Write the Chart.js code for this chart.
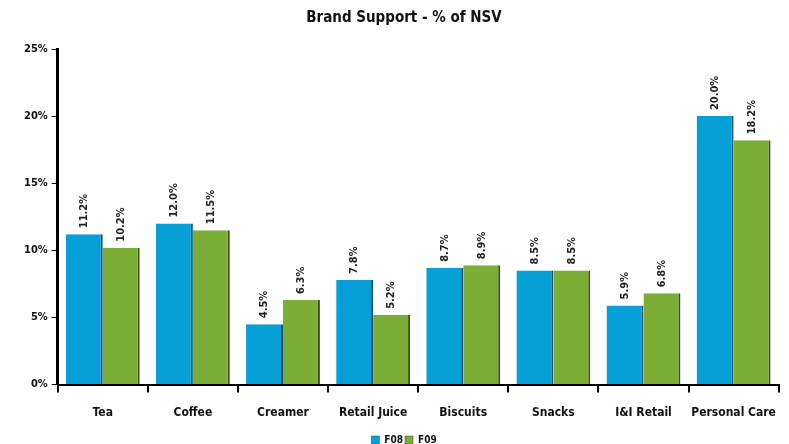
<!DOCTYPE html>
<html>
<head>
<meta charset="utf-8">
<script src="https://cdn.jsdelivr.net/npm/chart.js@4"></script>
<style>
  body { margin: 0; background: #fff; }
</style>
</head>
<body>
<canvas id="brandChart" width="789" height="444"></canvas>
<script>
const categories = ['Tea', 'Coffee', 'Creamer', 'Retail Juice', 'Biscuits', 'Snacks', 'I&I Retail', 'Personal Care'];
const f08 = [11.2, 12.0, 4.5, 7.8, 8.7, 8.5, 5.9, 20.0];
const f09 = [10.2, 11.5, 6.3, 5.2, 8.9, 8.5, 6.8, 18.2];
const yTicks = [0, 5, 10, 15, 20, 25];

const fontFam = "'Liberation Sans Narrow', 'DejaVu Sans Condensed', 'Roboto Condensed', sans-serif";

// draws the rotated value labels above each bar
const valueLabels = {
    id: 'valueLabels',
    afterDatasetsDraw(chart) {
        const ctx = chart.ctx;
        ctx.save();
        ctx.font = 'bold 11px ' + fontFam;
        ctx.fillStyle = '#222';
        ctx.textAlign = 'left';
        ctx.textBaseline = 'middle';
        chart.data.datasets.forEach((ds, i) => {
            chart.getDatasetMeta(i).data.forEach((bar, j) => {
                ctx.save();
                ctx.translate(bar.x, bar.y - 6);
                ctx.rotate(-Math.PI / 2);
                ctx.fillText(ds.data[j].toFixed(1) + '%', 0, 0);
                ctx.restore();
            });
        });
        ctx.restore();
    }
};

new Chart(document.getElementById('brandChart'), {
    type: 'bar',
    data: {
        labels: categories,
        datasets: [
            { label: 'F08', data: f08, backgroundColor: '#06a0d6', borderColor: '#03506e', borderWidth: { left: 0, right: 2, top: 0, bottom: 0 } },
            { label: 'F09', data: f09, backgroundColor: '#7cad37', borderColor: '#3a531a', borderWidth: { left: 0, right: 2, top: 0, bottom: 0 } }
        ]
    },
    options: {
        responsive: false,
        animation: false,
        layout: { padding: { left: 20, right: 1, top: 0, bottom: -11 } },
        datasets: {
            bar: { categoryPercentage: 0.82, barPercentage: 1.0 }
        },
        plugins: {
            title: {
                display: true,
                text: 'Brand Support - % of NSV',
                color: '#111',
                font: { family: fontFam, size: 15, weight: 'bold' },
                padding: { top: 9, bottom: 22 }
            },
            legend: {
                position: 'bottom',
                labels: {
                    boxWidth: 8, boxHeight: 8,
                    color: '#111',
                    padding: 2,
                    font: { family: fontFam, size: 10, weight: 'bold' }
                }
            },
            tooltip: { enabled: false }
        },
        scales: {
            x: {
                grid: { display: true, offset: true, drawOnChartArea: false, tickLength: 8, color: '#000', lineWidth: 2 },
                border: { color: '#000', width: 2 },
                ticks: { color: '#111', padding: 13, font: { family: fontFam, size: 12, weight: 'bold' } }
            },
            y: {
                min: 0, max: 25,
                afterBuildTicks(axis) { axis.ticks = yTicks.map(v => ({ value: v })); },
                grid: { display: true, drawOnChartArea: false, tickLength: 6, color: '#000', lineWidth: 1 },
                border: { color: '#000', width: 3 },
                ticks: {
                    color: '#111', padding: 4,
                    font: { family: fontFam, size: 11, weight: 'bold' },
                    callback: v => v + '%'
                }
            }
        }
    },
    plugins: [valueLabels]
});
</script>
</body>
</html>
